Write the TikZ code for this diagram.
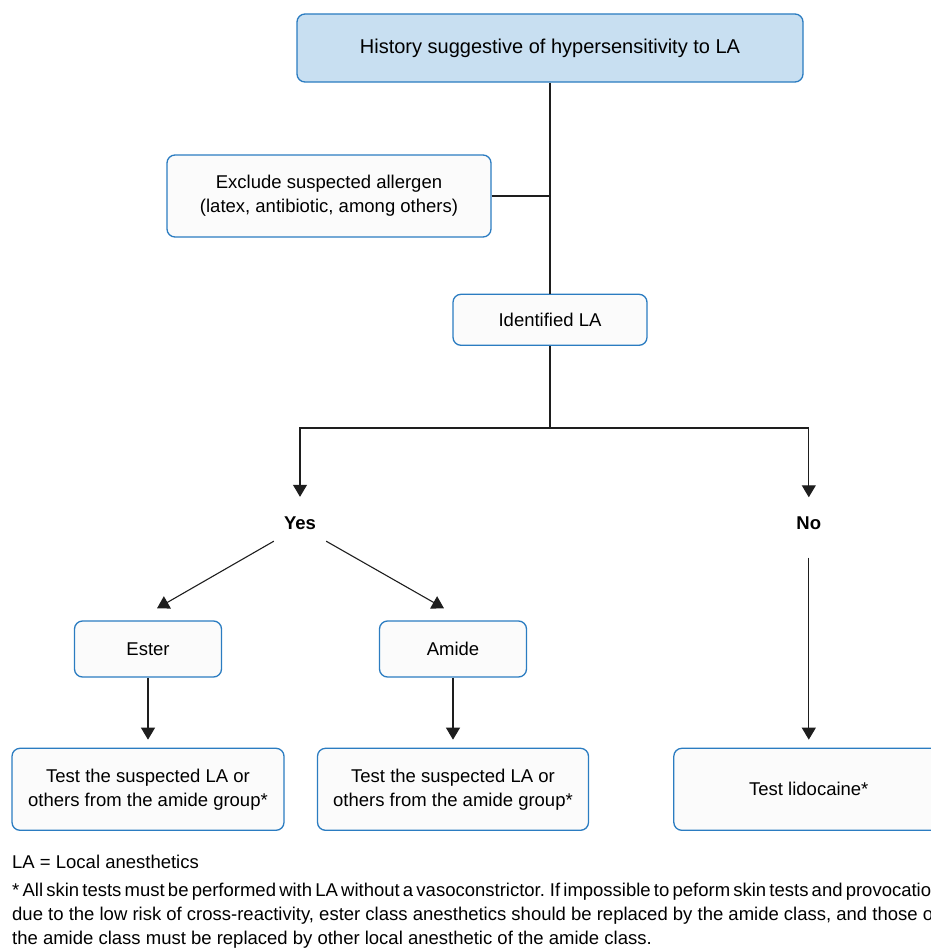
\documentclass[tikz,border=0pt]{standalone}
\usepackage{fontspec}
\setmainfont{Liberation Sans}
\usepackage{xcolor}
\usepackage{tikz}
\usetikzlibrary{positioning,shapes,arrows.meta}
\definecolor{boxblue}{HTML}{2B7CC1}
\definecolor{headfill}{HTML}{C8DFF1}
\definecolor{boxfill}{HTML}{FBFBFB}
\definecolor{linegrey}{HTML}{1E1E1E}
\tikzstyle{abstract}=[rectangle, draw=boxblue, line width=1.3pt, rounded corners=8pt, fill=boxfill,
        align=center, text=black, font=\fontsize{18.5}{24}\selectfont]
\tikzstyle{header}=[abstract, fill=headfill, font=\fontsize{20}{24}\selectfont]
\tikzstyle{answer}=[rectangle, minimum width=52pt, minimum height=36pt, inner sep=0pt,
        font=\fontsize{18.5}{24}\selectfont\bfseries]
\tikzstyle{myarrow}=[-{Triangle[width=14pt,length=12pt]}, line width=1.1pt, draw=linegrey]
\tikzstyle{line}=[-, line width=1.1pt, draw=linegrey]
\tikzstyle{note}=[anchor=base west, inner sep=0pt, font=\fontsize{18.5}{24}\selectfont]

\begin{document}
\begin{tikzpicture}[x=1pt, y=-1pt, node distance=70pt]
    \clip (0,0) rectangle (931,950);
    \node (History) [header, minimum width=506pt, minimum height=68pt] at (550,48)
        {History suggestive of hypersensitivity to LA};
    \node (Exclude) [abstract, minimum width=324pt, minimum height=82pt] at (329,196)
        {Exclude suspected allergen\\(latex, antibiotic, among others)};
    \node (Identified) [abstract, minimum width=194pt, minimum height=51pt, below=211pt of History]
        {Identified LA};
    \coordinate [below=82pt of Identified] (Split);
    \node (Yes) [answer] at (300,523) {Yes};
    \node (Ester) [abstract, minimum width=147pt, minimum height=56pt] at (148,649) {Ester};
    \node (Amide) [abstract, minimum width=147pt, minimum height=56pt] at (453,649) {Amide};
    \node (TestEster) [abstract, minimum width=272pt, minimum height=82pt, below=of Ester]
        {Test the suspected LA or\\others from the amide group*};
    \node (TestAmide) [abstract, minimum width=271pt, minimum height=82pt, below=of Amide]
        {Test the suspected LA or\\others from the amide group*};
    \node (Lidocaine) [abstract, minimum width=270pt, minimum height=82pt, right=84pt of TestAmide]
        {Test lidocaine*};
    \node (No) [answer, above=206pt of Lidocaine] {No};

    \draw[line] (History) -- (Identified);
    \draw[line] (Exclude.east) -- (Exclude.east -| History.south);
    \draw[line] (Identified) -- (Split);
    \draw[myarrow] (Split) -| ([yshift=8pt]Yes.north);
    \draw[myarrow] (Split) -| ([yshift=8pt]No.north);
    \draw[myarrow] (Yes.south west) -- ([xshift=9pt,yshift=12pt]Ester.north);
    \draw[myarrow] (Yes.south east) -- ([xshift=-9pt,yshift=12pt]Amide.north);
    \draw[myarrow, shorten >=8pt] (Ester) -- (TestEster);
    \draw[myarrow, shorten >=8pt] (Amide) -- (TestAmide);
    \draw[myarrow, shorten <=16pt, shorten >=8pt] (No) -- (Lidocaine);

    \node (Legend) [note] at (12,868) {LA = Local anesthetics};
    \node (NoteA) [note] at (12,896) {\spaceskip=3.2pt\relax * All skin tests must be performed with LA without a vasoconstrictor. If impossible to peform skin tests and provocation};
    \node (NoteB) [note] at (12,920) {due to the low risk of cross-reactivity, ester class anesthetics should be replaced by the amide class, and those of};
    \node (NoteC) [note] at (12,944) {the amide class must be replaced by other local anesthetic of the amide class.};
\end{tikzpicture}
\end{document}
